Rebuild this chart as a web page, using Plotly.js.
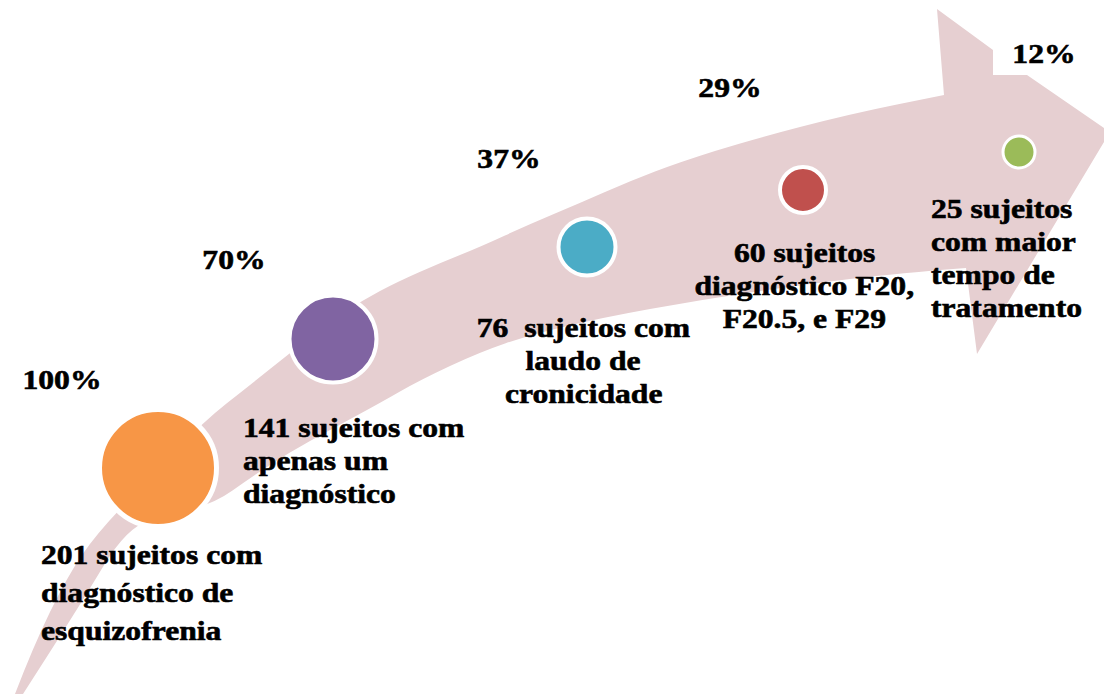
<!DOCTYPE html>
<html>
<head>
<meta charset="utf-8">
<script src="https://cdn.plot.ly/plotly-3.0.1.min.js"></script>
<style>
  html, body { margin: 0; padding: 0; background: #ffffff; }
  #chart { width: 1104px; height: 694px; }
</style>
</head>
<body>
<div id="chart"></div>
<script>
// ---------- DATA ----------
const counts = [201, 141, 76, 60, 25];
const percents = [100, 70, 37, 29, 12];
const labelLines = [
  ['201 sujeitos com', 'diagnóstico de', 'esquizofrenia'],
  ['141 sujeitos com', 'apenas um', 'diagnóstico'],
  ['76\u00a0 sujeitos com', 'laudo de', 'cronicidade'],
  ['60 sujeitos', 'diagnóstico F20,', 'F20.5, e F29'],
  ['25 sujeitos', 'com maior', 'tempo de', 'tratamento']
];
const nodeColors = ['#F79646', '#8064A2', '#4BACC6', '#C0504D', '#9BBB59'];

// ---------- LAYOUT (positions in page pixels) ----------
const nodeX = [158, 333, 587, 803, 1019];
const nodeY = [468, 339, 247, 190, 152];
const nodeOuter = [122, 91, 61, 50, 35];
const nodeRing = [5, 4, 4, 4, 3];
const pctX = [62, 234, 509, 730, 1044];
const pctY = [379, 259, 158, 87, 53];
const labelX = [40, 242, 583, 804, 930];
const labelY0 = [554, 427, 327, 252, 208];
const labelStep = [38, 33, 33, 33, 33];
const labelAlign = ['left', 'left', 'center', 'center', 'left'];

// arrow outline
const upperEdge = [[15,694],[33,647],[67,577],[97,533],[150,478],[203,422],[250,385],[290,353],[330,322],[363,300],[397,282],[440,263],[480,247],[530,224],[580,203],[630,181],[680,162],[750,140],[850,114],[944,95]];
const headPts = [[937,9],[993,50],[993,75],[1027,75],[1110,132],[977,354],[966,268]];
const lowerEdge = [[966,268],[900,273],[800,285],[700,300],[600,318],[530,335],[480,352],[420,380],[380,403],[330,430],[290,452],[250,478],[215,503],[170,515],[127,527],[80,605],[23,694]];

function smoothPath(pts) {
  let s = '';
  for (let i = 1; i < pts.length - 1; i++) {
    const mx = (pts[i][0] + pts[i+1][0]) / 2, my = (pts[i][1] + pts[i+1][1]) / 2;
    s += ' Q ' + pts[i][0] + ',' + pts[i][1] + ' ' + mx + ',' + my;
  }
  const l = pts[pts.length - 1];
  s += ' L ' + l[0] + ',' + l[1];
  return s;
}
let arrowPath = 'M ' + upperEdge[0][0] + ',' + upperEdge[0][1] + smoothPath(upperEdge);
headPts.forEach(p => { arrowPath += ' L ' + p[0] + ',' + p[1]; });
arrowPath += smoothPath(lowerEdge) + ' Z';

const FONT = 'Liberation Serif, Times New Roman, serif';
const FS = 28;

const annotations = [];
percents.forEach((p, i) => {
  annotations.push({
    x: pctX[i], y: pctY[i], xref: 'x', yref: 'y', text: p + '%', showarrow: false,
    xanchor: 'center', yanchor: 'middle', align: 'center',
    font: {family: FONT, size: FS, color: '#000000', weight: 700}
  });
});
labelLines.forEach((lines, i) => {
  lines.forEach((t, j) => {
    annotations.push({
      x: labelX[i], y: labelY0[i] + j * labelStep[i], xref: 'x', yref: 'y', text: t, showarrow: false,
      xanchor: labelAlign[i] === 'left' ? 'left' : 'center', yanchor: 'middle', align: labelAlign[i],
      font: {family: FONT, size: FS, color: '#000000', weight: 700},
      borderpad: 0
    });
  });
});

const traces = [{
  type: 'scatter', mode: 'markers',
  x: nodeX, y: nodeY,
  text: counts.map((c, i) => c + ' sujeitos (' + percents[i] + '%)'),
  hoverinfo: 'text',
  marker: {
    size: nodeOuter.map((d, i) => d - nodeRing[i]),
    color: nodeColors,
    opacity: 1,
    line: {color: '#ffffff', width: nodeRing}
  }
}];

const layout = {
  width: 1104, height: 694,
  margin: {l: 0, r: 0, t: 0, b: 0},
  paper_bgcolor: '#ffffff', plot_bgcolor: '#ffffff',
  showlegend: false,
  xaxis: {range: [0, 1104], visible: false, fixedrange: true},
  yaxis: {range: [694, 0], visible: false, fixedrange: true},
  shapes: [{
    type: 'path', xref: 'x', yref: 'y', path: arrowPath,
    fillcolor: '#E6CFD1', line: {width: 0}, layer: 'below'
  }],
  annotations: annotations
};

Plotly.newPlot('chart', traces, layout, {displayModeBar: false, staticPlot: true}).then(function (gd) {
  const texts = gd.querySelectorAll('.annotation-text');
  texts.forEach(function (el, k) {
    const a = annotations[k];
    el.style.transformBox = 'fill-box';
    el.style.transformOrigin = a.xanchor === 'left' ? '0% 50%' : '50% 50%';
    el.style.transform = 'scaleX(1.13)';
    el.style.stroke = '#000000';
    el.style.strokeWidth = '0.6px';
  });
});
</script>
</body>
</html>
